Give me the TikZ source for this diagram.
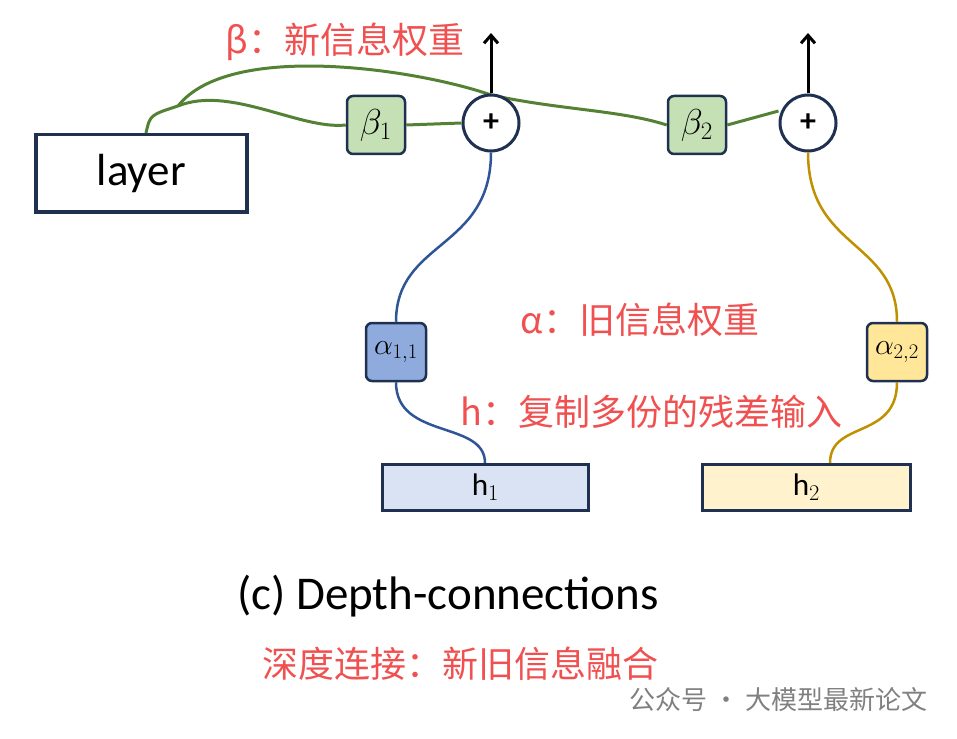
\documentclass[tikz,border=0pt]{standalone}
\usepackage{fontspec}
\setmainfont{Carlito}
\newfontfamily\cjk{Noto Sans CJK SC}
\usetikzlibrary{arrows.meta,positioning}
\definecolor{navy}{HTML}{1F3050}
\definecolor{leaf}{HTML}{548235}
\definecolor{note}{HTML}{F05050}
\definecolor{bluel}{HTML}{2F5597}
\definecolor{goldl}{HTML}{BF9000}
\begin{document}
\begin{tikzpicture}[x=1pt,y=-1pt,
    box/.style={draw=navy,line width=3.5pt,inner sep=0pt,anchor=north west},
    wbox/.style={draw=navy,line width=2.5pt,rounded corners=6pt,minimum width=58pt,minimum height=58pt,inner sep=0pt},
    sumnode/.style={circle,draw=navy,line width=3pt,fill=white,minimum size=56pt,inner sep=0pt,font=\bfseries\fontsize{32}{32}\selectfont},
    noteA/.style={text=note,font=\cjk\fontsize{36}{36}\selectfont,anchor=west}]
  \useasboundingbox (0,0) rectangle (957,738);
  % boxes
  \node[box,minimum width=211pt,minimum height=77pt,font=\fontsize{45}{45}\selectfont] (layer) at (34,133) {layer};
  \node[box,line width=3pt,fill={rgb,255:red,218;green,227;blue,243},minimum width=206pt,minimum height=46pt,font=\rmfamily\fontsize{24}{24}\selectfont] (h1) at (381,463) {\scalebox{1.3}{h$_1$}};
  \node[box,line width=3pt,fill={rgb,255:red,255;green,242;blue,204},minimum width=208pt,minimum height=46pt,font=\rmfamily\fontsize{24}{24}\selectfont] (h2) at (701,463) {\scalebox{1.3}{h$_2$}};
  \node[wbox,fill={rgb,255:red,197;green,224;blue,180}] (b1) at (376,125) {\fontsize{24}{24}\selectfont\scalebox{1.45}{$\beta_1$}};
  \node[wbox,fill={rgb,255:red,197;green,224;blue,180}] (b2) at (697,125) {\fontsize{24}{24}\selectfont\scalebox{1.45}{$\beta_2$}};
  \node[wbox,minimum width=60pt,fill={rgb,255:red,143;green,170;blue,220}] (a1) at (396,352) {\fontsize{24}{24}\selectfont\scalebox{1.2}{$\alpha_{1,1}$}};
  \node[wbox,minimum width=60pt,fill={rgb,255:red,255;green,230;blue,153}] (a2) at (897,352) {\fontsize{24}{24}\selectfont\scalebox{1.2}{$\alpha_{2,2}$}};
  \coordinate (split) at (178,106);
  % green paths
  \draw[leaf,line width=3pt] (layer.north west)++(112,0) coordinate (lt) .. controls (150,115) .. (split)
     .. controls (230,85) and (300,130) .. (b1.west);
  \draw[leaf,line width=3pt] (split) .. controls (230,40) and (420,70) .. (491,95)
     .. controls (560,110) and (620,110) .. (b2.west);
  \node[sumnode] (s1) at (491,123) {+};
  \node[sumnode] (s2) at (808,123) {+};
  \draw[leaf,line width=3pt] (b1.east) -- (s1.west);
  \draw[leaf,line width=3pt] (b2.east) -- ([yshift=12pt]s2.west);
  \coordinate (o1) at (491,33);
  \coordinate (o2) at (808,33);
  \draw[-{Straight Barb[length=8pt,width=14pt]},line width=3pt] (s1.north) -- (o1);
  \draw[-{Straight Barb[length=8pt,width=14pt]},line width=3pt] (s2.north) -- (o2);
  % blue and gold paths
  \draw[bluel,line width=2.5pt] (s1.south) .. controls (491,250) and (396,240) .. (a1.north);
  \draw[bluel,line width=2.5pt] (a1.south) .. controls (396,440) and (485,420) .. (h1.north -| 485,0);
  \draw[goldl,line width=2.5pt] (s2.south) .. controls (808,250) and (897,240) .. (a2.north);
  \draw[goldl,line width=2.5pt] (a2.south) .. controls (897,440) and (830,420) .. (h2.north -| 830,0);
  % notes
  \node[noteA] (nb) at (222,42) {β：新信息权重};
  \node[noteA] (na) at (517,320) {α：旧信息权重};
  \node[noteA] (nh) at (457,412) {h：复制多份的残差输入};
  \node[font=\fontsize{47}{47}\selectfont] (cap) at (448,596) {(c) Depth-connections};
  \node[noteA] (cn) at (259,664) {深度连接：新旧信息融合};
  \node[text=gray,font=\cjk\fontsize{26}{26}\selectfont,anchor=west] (wm) at (626,700) {公众号 · 大模型最新论文};
\end{tikzpicture}
\end{document}
